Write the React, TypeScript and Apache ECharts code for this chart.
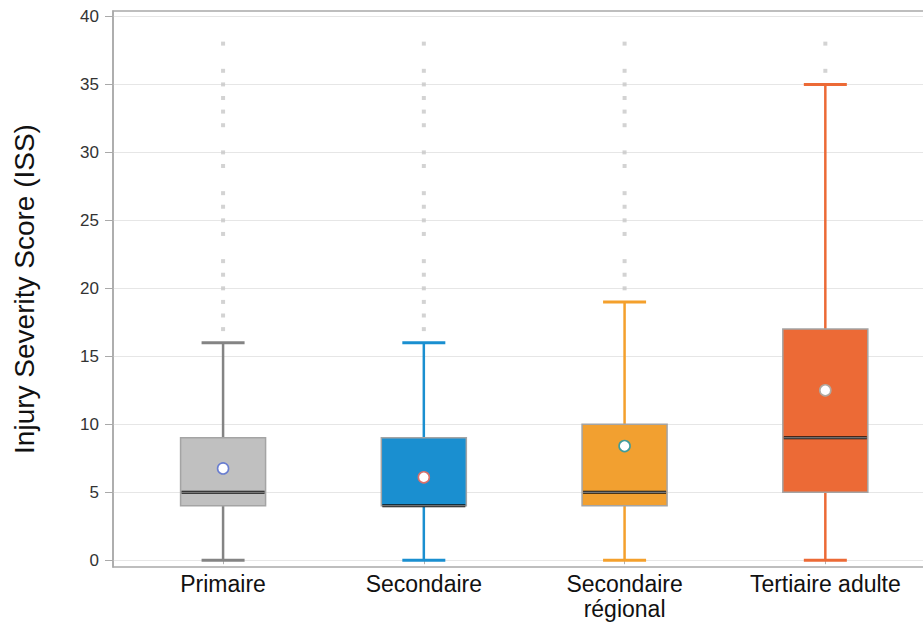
import React, { useEffect, useRef } from "react";
import * as echarts from "echarts";

// Injury Severity Score by trauma centre level
const categories = ["Primaire", "Secondaire", "Secondaire\nrégional", "Tertiaire adulte"];
const whiskerLow = [0, 0, 0, 0];
const q1 = [4, 4, 4, 5];
const median = [5, 4, 5, 9];
const q3 = [9, 9, 10, 17];
const whiskerHigh = [16, 16, 19, 35];
const means = [6.75, 6.1, 8.4, 12.5];

const outliersPrimaire = [17, 18, 19, 20, 21, 22, 24, 25, 26, 27, 29, 30, 32, 33, 34, 35, 36, 38];
const outliersSecondaire = [17, 18, 19, 20, 21, 22, 24, 25, 26, 27, 29, 30, 32, 33, 34, 35, 36, 38];
const outliersRegional = [20, 21, 22, 24, 25, 26, 27, 29, 30, 32, 33, 34, 35, 36, 38];
const outliersTertiaire = [36, 38];

const yTicks = [0, 5, 10, 15, 20, 25, 30, 35, 40];

const boxColors = ["#c0c0c0", "#1a8fd0", "#f2a030", "#ec6a36"];
const whiskerColors = ["#848484", "#1a8fd0", "#f4a02c", "#ec6a36"];
const meanColors = ["#6a7ed0", "#d9706a", "#3f9c9c", "#b0a8a0"];

const FONT = "'Liberation Sans', Arial, sans-serif";

export default function App() {
  const ref = useRef<HTMLDivElement>(null);

  useEffect(() => {
    if (!ref.current) return;
    const chart = echarts.init(ref.current, null, { renderer: "svg" });

    const boxData = categories.map((_, i) => [
      i,
      whiskerLow[i],
      q1[i],
      median[i],
      q3[i],
      whiskerHigh[i],
      means[i],
    ]);

    const outlierGroups = [outliersPrimaire, outliersSecondaire, outliersRegional, outliersTertiaire];
    const outlierData: number[][] = [];
    outlierGroups.forEach((vals, i) => vals.forEach((v) => outlierData.push([i, v])));

    const yMin = -0.5;
    const yMax = 40.4;

    // shared value scale for the framed grid and the plotting grid
    const yScale = {
      type: "value",
      min: yMin,
      max: yMax,
      minInterval: 5,
      maxInterval: 5,
      splitNumber: 8,
    };

    const option: any = {
      animation: false,
      grid: [
        {
          left: 113,
          right: -10,
          top: 11,
          bottom: 59,
          show: true,
          borderColor: "#a9a9a9",
          borderWidth: 1.5,
          backgroundColor: "transparent",
          outerBoundsMode: "none",
        },
        { left: 122.7, width: 803, top: 11, bottom: 59, outerBoundsMode: "none" },
      ],
      xAxis: [
        { gridIndex: 0, type: "value", min: 0, max: 1, show: false },
        {
          gridIndex: 1,
          type: "category",
          data: categories,
          axisLine: { show: false },
          axisTick: { show: true, alignWithLabel: true, length: 4, lineStyle: { color: "#b0b0b0" } },
          axisLabel: {
            interval: 0,
            hideOverlap: false,
            fontFamily: FONT,
            fontSize: 23,
            color: "#111111",
            lineHeight: 25,
            margin: 4,
          },
          splitLine: { show: false },
        },
      ],
      yAxis: [
        {
          gridIndex: 0,
          ...yScale,
          name: "Injury Severity Score (ISS)",
          nameLocation: "middle",
          nameGap: 75,
          nameTextStyle: { fontFamily: FONT, fontSize: 28, color: "#111111" },
          axisLine: { show: true, lineStyle: { color: "#a9a9a9", width: 1.5 } },
          axisTick: {
            show: true,
            length: 8,
            customValues: yTicks,
            lineStyle: { color: "#a9a9a9" },
          },
          axisLabel: {
            customValues: yTicks,
            fontFamily: FONT,
            fontSize: 17,
            color: "#333333",
            margin: 14,
          },
          splitLine: { show: true, lineStyle: { color: "#e6e6e6", width: 1.2 } },
        },
        {
          gridIndex: 1,
          ...yScale,
          axisLine: { show: false },
          axisTick: { show: false },
          axisLabel: { show: false },
          splitLine: { show: false },
        },
      ],
      series: [
        {
          type: "scatter",
          xAxisIndex: 1,
          yAxisIndex: 1,
          symbol: "rect",
          symbolSize: 4,
          itemStyle: { color: "#c8c8c8" },
          data: outlierData,
          silent: true,
        },
        {
          type: "custom",
          xAxisIndex: 1,
          yAxisIndex: 1,
          data: boxData,
          renderItem: (params: any, api: any) => {
            const i = api.value(0);
            const pLow = api.coord([i, api.value(1)]);
            const pQ1 = api.coord([i, api.value(2)]);
            const pMed = api.coord([i, api.value(3)]);
            const pQ3 = api.coord([i, api.value(4)]);
            const pHigh = api.coord([i, api.value(5)]);
            const pMean = api.coord([i, api.value(6)]);
            const x = pLow[0];
            const boxW = 85;
            const capW = 43;
            const wc = whiskerColors[i];
            return {
              type: "group",
              children: [
                {
                  type: "line",
                  shape: { x1: x, y1: pHigh[1], x2: x, y2: pQ3[1] },
                  style: { stroke: wc, lineWidth: 2.5 },
                },
                {
                  type: "line",
                  shape: { x1: x, y1: pQ1[1], x2: x, y2: pLow[1] },
                  style: { stroke: wc, lineWidth: 2.5 },
                },
                {
                  type: "line",
                  shape: { x1: x - capW / 2, y1: pHigh[1], x2: x + capW / 2, y2: pHigh[1] },
                  style: { stroke: wc, lineWidth: 3 },
                },
                {
                  type: "line",
                  shape: { x1: x - capW / 2, y1: pLow[1], x2: x + capW / 2, y2: pLow[1] },
                  style: { stroke: wc, lineWidth: 3 },
                },
                {
                  type: "rect",
                  shape: { x: x - boxW / 2, y: pQ3[1], width: boxW, height: pQ1[1] - pQ3[1] },
                  style: { fill: boxColors[i], stroke: "#a4a4a4", lineWidth: 1.5 },
                },
                {
                  type: "line",
                  shape: { x1: x - boxW / 2 + 1, y1: pMed[1], x2: x + boxW / 2 - 1, y2: pMed[1] },
                  style: { stroke: "#111111", lineWidth: 3 },
                },
                {
                  type: "line",
                  shape: { x1: x - boxW / 2 + 1, y1: pMed[1], x2: x + boxW / 2 - 1, y2: pMed[1] },
                  style: { stroke: "#dddddd", lineWidth: 0.7 },
                },
                {
                  type: "circle",
                  shape: { cx: pMean[0], cy: pMean[1], r: 5.5 },
                  style: { fill: "#ffffff", stroke: meanColors[i], lineWidth: 1.6 },
                },
              ],
            };
          },
        },
      ],
    };

    chart.setOption(option);
    return () => chart.dispose();
  }, []);

  return (
    <div
      ref={ref}
      style={{ position: "fixed", left: 0, top: 0, width: 923, height: 626, background: "#ffffff" }}
    />
  );
}
